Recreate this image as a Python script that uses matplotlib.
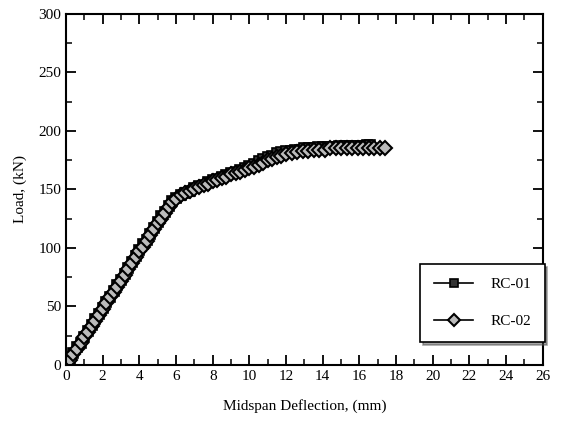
import matplotlib.pyplot as plt
from matplotlib.ticker import MultipleLocator

# RC-01 (square markers)
rc01_x = [0, 0.2, 0.4, 0.6, 0.8, 1.0, 1.2, 1.4, 1.6, 1.8, 2.0, 2.2, 2.4, 2.6, 2.8,
          3.0, 3.2, 3.4, 3.6, 3.8, 4.0, 4.2, 4.4, 4.6, 4.8, 5.0, 5.2, 5.4, 5.6, 5.8,
          6.0, 6.25, 6.5, 6.75, 7.0, 7.25, 7.5, 7.75, 8.0, 8.25, 8.5, 8.75, 9.0,
          9.25, 9.5, 9.75, 10.0, 10.25, 10.5, 10.75, 11.0, 11.25, 11.5, 11.75,
          12.0, 12.25, 12.5, 12.75, 13.0, 13.25, 13.5, 13.75, 14.0, 14.3, 14.6,
          14.9, 15.2, 15.5, 15.8, 16.1, 16.4, 16.6]
rc01_y = [0, 5, 10, 15, 19, 24, 29, 34, 39, 44, 49, 54, 58, 63, 68,
          73, 78, 83, 88, 93, 98, 103, 107, 112, 117, 122, 127, 131, 136, 140,
          143, 145, 147, 149, 151, 153, 154, 156, 158, 159, 161, 162, 164,
          165, 167, 168, 170, 172, 174, 176, 178, 179, 181, 182,
          183, 183, 184, 184, 185, 185, 185, 186, 186, 186, 186,
          187, 187, 187, 187, 187, 188, 188]

# RC-02 (diamond markers)
rc02_x = [0, 0.2, 0.4, 0.6, 0.8, 1.0, 1.2, 1.4, 1.6, 1.8, 2.0, 2.2, 2.4, 2.6, 2.8,
          3.0, 3.2, 3.4, 3.6, 3.8, 4.0, 4.2, 4.4, 4.6, 4.8, 5.0, 5.2, 5.4, 5.6, 5.8,
          6.0, 6.25, 6.5, 6.75, 7.0, 7.25, 7.5, 7.75, 8.0, 8.25, 8.5, 8.75, 9.0,
          9.25, 9.5, 9.75, 10.0, 10.25, 10.5, 10.75, 11.0, 11.25, 11.5, 11.75,
          12.0, 12.3, 12.6, 12.9, 13.2, 13.5, 13.8, 14.1, 14.4, 14.7, 15.0,
          15.3, 15.6, 15.9, 16.2, 16.5, 16.8, 17.1, 17.4]
rc02_y = [0, 4, 9, 14, 19, 24, 28, 33, 38, 43, 48, 53, 58, 62, 67,
          72, 77, 82, 87, 92, 97, 101, 106, 111, 116, 121, 125, 130, 135, 139,
          142, 145, 147, 149, 150, 152, 154, 155, 157, 158, 160, 161, 163,
          164, 165, 167, 168, 169, 171, 173, 175, 176, 178, 179,
          180, 181, 182, 183, 183, 184, 184, 184, 185, 185, 185,
          185, 185, 185, 185, 185, 185, 185, 185]

plt.rcParams['font.family'] = ['Liberation Serif', 'DejaVu Serif']

fig = plt.figure(figsize=(5.66, 4.21), dpi=100)
ax = fig.add_axes([0.1166, 0.133, 0.8424, 0.834])

ax.plot(rc01_x, rc01_y, color='black', linewidth=1.2, marker='s', markersize=7,
        markerfacecolor='#333333', markeredgecolor='black', markeredgewidth=1.2,
        label='RC-01')
ax.plot(rc02_x, rc02_y, color='black', linewidth=1.2, marker='D', markersize=7,
        markerfacecolor='#bbbbbb', markeredgecolor='black', markeredgewidth=1.5,
        label='RC-02')

ax.set_xlim(0, 26)
ax.set_ylim(0, 300)
ax.xaxis.set_major_locator(MultipleLocator(2))
ax.xaxis.set_minor_locator(MultipleLocator(1))
ax.yaxis.set_major_locator(MultipleLocator(50))
ax.yaxis.set_minor_locator(MultipleLocator(25))
ax.tick_params(which='both', direction='in', top=True, right=True, labelsize=11)
ax.tick_params(which='major', length=7, width=1.3)
ax.tick_params(which='minor', length=4, width=1.1)
for sp in ax.spines.values():
    sp.set_linewidth(1.5)

ax.set_xlabel('Midspan Deflection, (mm)', fontsize=11, labelpad=12)
ax.set_ylabel('Load, (kN)', fontsize=11, labelpad=8)

leg = ax.legend(loc='lower right', bbox_to_anchor=(1.004, 0.066), fontsize=11,
                frameon=True, fancybox=False, shadow=True, edgecolor='black',
                labelspacing=1.5, handlelength=2.6, borderpad=0.9,
                handletextpad=1.1, borderaxespad=0, markerscale=0.85)
leg.get_frame().set_linewidth(1.2)
leg.set_zorder(5)

fig.savefig('out.png', dpi=100)
